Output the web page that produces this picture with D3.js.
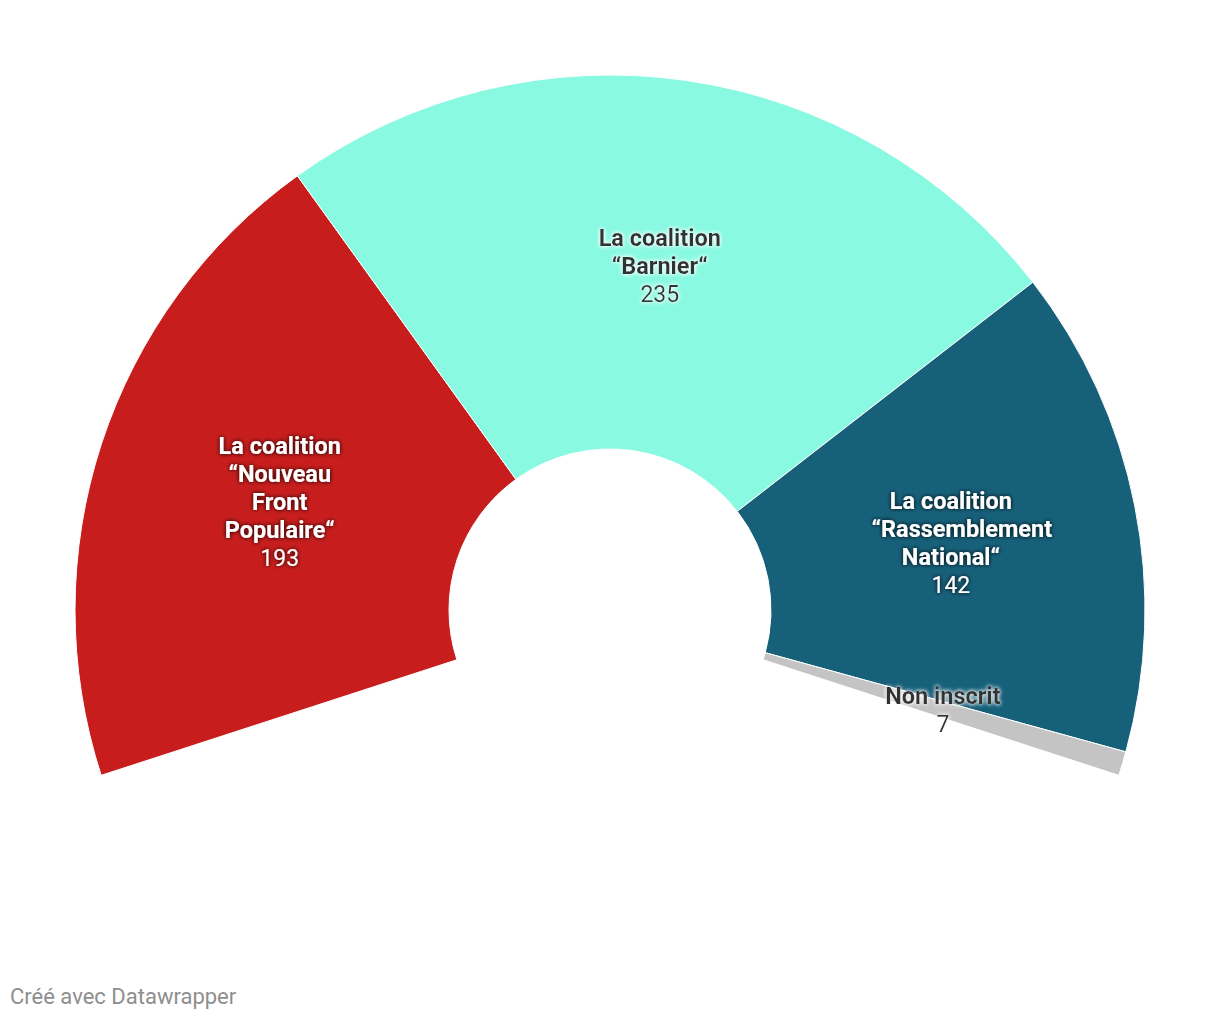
<!DOCTYPE html>
<html>
<head>
<meta charset="utf-8">
<script src="https://cdn.jsdelivr.net/npm/d3@7"></script>
<style>
  body { margin: 0; background: #fff; }
  svg text { font-family: Roboto, "Noto Sans", sans-serif; }
</style>
</head>
<body>
<svg id="chart" width="1220" height="1020"></svg>
<script>
// seats per coalition
var groups = ["Nouveau Front Populaire", "Barnier", "Rassemblement National", "Non inscrit"];
var seats = [193, 235, 142, 7];
var labelLines = [
    ["La coalition", "“Nouveau", "Front", "Populaire“"],
    ["La coalition", "“Barnier“"],
    ["La coalition", "“Rassemblement", "National“"],
    ["Non inscrit"]
];
var palette = ["#c71e1d", "#89f9e1", "#17607a", "#c4c4c4"];
var textColors = ["#ffffff", "#333333", "#ffffff", "#333333"];

var data = groups.map(function(g, i) {
    return { name: g, value: seats[i], lines: labelLines[i], color: palette[i], text: textColors[i] };
});

var cx = 610, cy = 610;
var svg = d3.select("#chart");

// glow filters for label text
var defs = svg.append("defs");
function glow(id, color, op) {
    var f = defs.append("filter").attr("id", id)
        .attr("x", "-20%").attr("y", "-40%").attr("width", "140%").attr("height", "180%");
    f.append("feGaussianBlur").attr("in", "SourceAlpha").attr("stdDeviation", 2.2).attr("result", "b");
    f.append("feFlood").attr("flood-color", color).attr("flood-opacity", op);
    f.append("feComposite").attr("in2", "b").attr("operator", "in").attr("result", "s");
    var m = f.append("feMerge");
    m.append("feMergeNode").attr("in", "s");
    m.append("feMergeNode").attr("in", "s");
    m.append("feMergeNode").attr("in", "SourceGraphic");
}
glow("glowDark", "#000", 0.55);
glow("glowLight", "#fff", 0.9);

var deg = Math.PI / 180;
var pie = d3.pie().sort(null).value(function(d) { return d.value; })
    .startAngle(-108 * deg).endAngle(108 * deg);

var arc = d3.arc().innerRadius(161).outerRadius(535);
var labelArc = d3.arc().innerRadius(347.5).outerRadius(347.5);

var g = svg.append("g").attr("transform", "translate(" + cx + "," + cy + ")");

var arcs = pie(data);

g.selectAll("path")
    .data(arcs)
    .enter()
    .append("path")
    .attr("d", arc)
    .attr("fill", function(d) { return d.data.color; })
    .attr("stroke", "#fff")
    .attr("stroke-width", 1);

var lh = 28;
var labels = g.selectAll("g.label")
    .data(arcs)
    .enter()
    .append("g")
    .attr("class", "label")
    .attr("transform", function(d) {
        var c = labelArc.centroid(d);
        var n = d.data.lines.length + 1;
        return "translate(" + c[0] + "," + (c[1] - (n - 1) * lh / 2) + ")";
    })
    .attr("filter", function(d) { return d.data.text === "#ffffff" ? "url(#glowDark)" : "url(#glowLight)"; });

labels.each(function(d) {
    var sel = d3.select(this);
    d.data.lines.forEach(function(line, i) {
        sel.append("text")
            .attr("y", i * lh)
            .attr("dy", "0.35em")
            // the long word sits a bit right in the original wrap
            .attr("x", line === "“Rassemblement" ? 11 : 0)
            .attr("text-anchor", "middle")
            .attr("font-size", 23.5)
            .attr("font-weight", 700)
            .attr("fill", d.data.text)
            .text(line);
    });
    sel.append("text")
        .attr("y", d.data.lines.length * lh)
        .attr("dy", "0.35em")
        .attr("text-anchor", "middle")
        .attr("font-size", 23)
        .attr("fill", d.data.text)
        .text(d.data.value);
});

svg.append("text")
    .attr("x", 10)
    .attr("y", 1004)
    .attr("font-size", 22)
    .attr("fill", "#8e8e8e")
    .text("Créé avec Datawrapper");
</script>
</body>
</html>
